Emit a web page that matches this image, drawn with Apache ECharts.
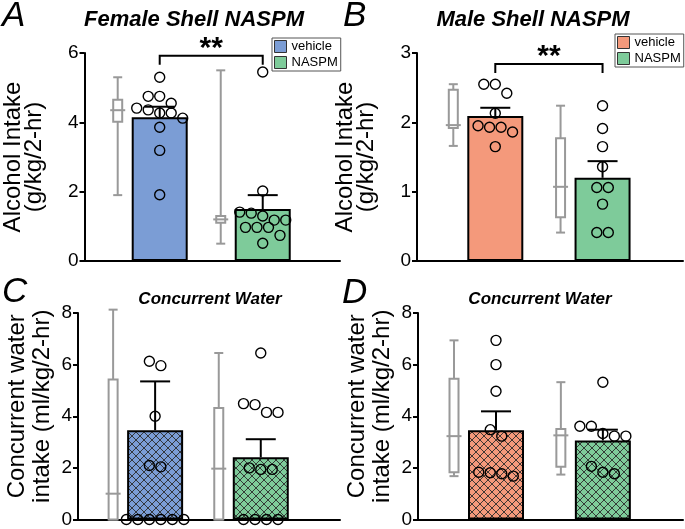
<!DOCTYPE html>
<html>
<head>
<meta charset="utf-8">
<script src="https://cdn.jsdelivr.net/npm/echarts@6/dist/echarts.min.js"></script>
<style>
  html, body { margin: 0; background: #fff; }
  #chart { width: 685px; height: 529px; }
</style>
</head>
<body>
<div id="chart"></div>
<script>
// 4 패널: A/B 알코올 섭취, C/D 동시 물 섭취 (vehicle vs NASPM)
const groups = ["vehicle", "NASPM"];

// A — Female Shell NASPM (g/kg/2-hr)
const femaleAlcMean = [4.15, 1.5];
const femaleAlcSem = [0.3, 0.4];
const femaleAlcVeh = [5.3, 4.75, 4.75, 4.55, 4.41, 4.36, 4.27, 4.27, 4.12, 3.86, 3.19, 1.91];
const femaleAlcNas = [5.45, 2.02, 1.41, 1.38, 1.3, 1.18, 1.18, 0.97, 0.97, 0.97, 0.74, 0.51];
const femaleAlcBox = [[1.9, 4.02, 4.35, 4.65, 5.3], [0.5, 1.1, 1.2, 1.3, 5.5]]; // min q1 med q3 max

// B — Male Shell NASPM
const maleAlcMean = [2.09, 1.2];
const maleAlcSem = [0.12, 0.24];
const maleAlcVeh = [2.55, 2.55, 2.42, 2.13, 1.95, 1.93, 1.93, 1.86, 1.65];
const maleAlcNas = [2.24, 1.91, 1.65, 1.36, 1.06, 1.06, 0.82, 0.41, 0.41];
const maleAlcBox = [[1.66, 1.92, 1.96, 2.47, 2.55], [0.41, 0.63, 1.07, 1.77, 2.24]];

// C — Female concurrent water (ml/kg/2-hr)
const femaleWatMean = [3.46, 2.41];
const femaleWatSem = [1.89, 0.7];
const femaleWatVeh = [6.13, 5.96, 4.0, 2.09, 2.04, 0, 0, 0, 0, 0, 0];
const femaleWatNas = [6.45, 4.49, 4.45, 4.15, 4.15, 2.0, 1.94, 1.94, 0, 0, 0, 0];
const femaleWatBox = [[0, 0, 1.0, 5.42, 8.13], [0, 0, 1.97, 4.32, 6.45]];

// D — Male concurrent water
const maleWatMean = [3.46, 3.06];
const maleWatSem = [0.73, 0.42];
const maleWatVeh = [6.94, 6.0, 4.97, 3.48, 3.23, 1.83, 1.81, 1.77, 1.68];
const maleWatNas = [5.32, 3.61, 3.61, 3.33, 3.23, 3.23, 2.06, 1.83, 1.77];
const maleWatBox = [[1.68, 1.83, 3.23, 5.45, 6.94], [1.74, 2.04, 3.26, 3.51, 5.32]];

const yMax = [6, 3, 8, 8];
const yStep = [2, 1, 2, 2];
const sigLevel = [5.92, 2.84];
const sigText = ["**", "**"];
const titles = ["Female Shell NASPM", "Male Shell NASPM", "Concurrent Water", "Concurrent Water"];
const letters = ["A", "B", "C", "D"];

const FONT = '"Liberation Sans", Arial, sans-serif';
const COL = { blue: "#7b9dd5", salmon: "#f4997b", green: "#7ecb9a", box: "#999999", ink: "#000" };
const BOX_SHIFT = -42;

function hatch(color) {
  const c = document.createElement("canvas");
  c.width = c.height = 8;
  const g = c.getContext("2d");
  g.fillStyle = color;
  g.fillRect(0, 0, 8, 8);
  g.strokeStyle = "#2b2b2b";
  g.lineWidth = 0.9;
  g.beginPath();
  g.moveTo(-1, -1); g.lineTo(9, 9);
  g.moveTo(9, -1); g.lineTo(-1, 9);
  g.stroke();
  return { image: c, repeat: "repeat" };
}

const ln = (x1, y1, x2, y2, stroke, w) => ({
  type: "line", shape: { x1, y1, x2, y2 }, style: { stroke, lineWidth: w }
});

function renderBox(params, api) {
  const x = api.value(0);
  const cx = api.coord([x, 0])[0] + BOX_SHIFT;
  const y = [1, 2, 3, 4, 5].map((d) => api.coord([x, api.value(d)])[1]);
  const hw = 4.5, mw = 7.5;
  return {
    type: "group",
    children: [
      ln(cx, y[0], cx, y[1], COL.box, 2),
      ln(cx, y[3], cx, y[4], COL.box, 2),
      ln(cx - hw, y[0], cx + hw, y[0], COL.box, 2),
      ln(cx - hw, y[4], cx + hw, y[4], COL.box, 2),
      { type: "rect", shape: { x: cx - hw, y: y[3], width: hw * 2, height: y[1] - y[3] },
        style: { fill: "#fff", stroke: COL.box, lineWidth: 2 } },
      ln(cx - mw, y[2], cx + mw, y[2], COL.box, 2),
    ],
  };
}

function renderErr(params, api) {
  const x = api.value(0);
  const p0 = api.coord([x, api.value(1)]);
  const p1 = api.coord([x, api.value(1) + api.value(2)]);
  return {
    type: "group",
    children: [
      ln(p0[0], p0[1], p1[0], p1[1], COL.ink, 2),
      ln(p1[0] - 15, p1[1], p1[0] + 15, p1[1], COL.ink, 2),
    ],
  };
}

// 같은 높이대 점들을 한 줄로 묶어 좌우로 펼친다
function swarmRenderer(vals) {
  const D = 10.5, STEP = 11.5;
  return function (params, api) {
    const x = api.value(0);
    const py = vals.map((v) => api.coord([x, v])[1]);
    const order = vals.map((v, i) => i).sort((a, b) => vals[b] - vals[a]);
    const off = new Array(vals.length).fill(0);
    let row = [], rowY = null;
    const flush = () => row.forEach((k, j) => (off[k] = (j - (row.length - 1) / 2) * STEP));
    order.forEach((k) => {
      if (rowY === null || py[k] - rowY >= D) { flush(); row = []; rowY = py[k]; }
      row.push(k);
    });
    flush();
    const i = params.dataIndex;
    const cx = api.coord([x, 0])[0] + off[i];
    return {
      type: "circle",
      shape: { cx, cy: py[i], r: 5 },
      style: { fill: "none", stroke: COL.ink, lineWidth: 1.4 },
    };
  };
}

function sigRenderer(text) {
  return function (params, api) {
    const l = api.coord([api.value(0), api.value(2)]);
    const r = api.coord([api.value(1), api.value(2)]);
    return {
      type: "group",
      children: [
        { type: "polyline",
          shape: { points: [[l[0], l[1] + 9], l, r, [r[0], r[1] + 9]] },
          style: { stroke: COL.ink, lineWidth: 2, fill: "none" } },
        { type: "text", x: (l[0] + r[0]) / 2, y: l[1] - 7,
          style: { text, font: "bold 30px " + FONT, fill: COL.ink, align: "center", verticalAlign: "middle" } },
      ],
    };
  };
}

const panels = [
  { mean: femaleAlcMean, sem: femaleAlcSem, pts: [femaleAlcVeh, femaleAlcNas], box: femaleAlcBox, colors: [COL.blue, COL.green], hatched: false },
  { mean: maleAlcMean, sem: maleAlcSem, pts: [maleAlcVeh, maleAlcNas], box: maleAlcBox, colors: [COL.salmon, COL.green], hatched: false },
  { mean: femaleWatMean, sem: femaleWatSem, pts: [femaleWatVeh, femaleWatNas], box: femaleWatBox, colors: [COL.blue, COL.green], hatched: true },
  { mean: maleWatMean, sem: maleWatSem, pts: [maleWatVeh, maleWatNas], box: maleWatBox, colors: [COL.salmon, COL.green], hatched: true },
];

const gridPos = [
  { left: 78, top: 53, width: 262, height: 208 },
  { left: 417, top: 53, width: 266, height: 208 },
  { left: 78, top: 313, width: 262, height: 207 },
  { left: 418, top: 313, width: 265, height: 207 },
];

const yNames = ["Alcohol Intake\n(g/kg/2-hr)", "Alcohol Intake\n(g/kg/2-hr)",
  "Concurrent water\nintake (ml/kg/2-hr)", "Concurrent water\nintake (ml/kg/2-hr)"];

const series = [];
panels.forEach((p, i) => {
  const ax = { xAxisIndex: i, yAxisIndex: i, silent: true };
  groups.forEach((g, k) => {
    series.push({
      ...ax, type: "bar", name: g, barWidth: 56, barGap: "-100%", z: 2,
      data: [[k + 1, p.mean[k]]],
      itemStyle: { color: p.hatched ? hatch(p.colors[k]) : p.colors[k], borderColor: COL.ink, borderWidth: 2 },
    });
  });
  series.push({ ...ax, type: "custom", z: 1, data: p.box.map((b, k) => [k + 1, ...b]), renderItem: renderBox });
  series.push({ ...ax, type: "custom", z: 3, data: p.mean.map((m, k) => [k + 1, m, p.sem[k]]), renderItem: renderErr });
  p.pts.forEach((vals, k) => {
    series.push({ ...ax, type: "custom", z: 4, data: vals.map((v) => [k + 1, v]), renderItem: swarmRenderer(vals) });
  });
  if (i < 2) {
    series.push({ ...ax, type: "custom", z: 4, data: [[1, 2, sigLevel[i]]], renderItem: sigRenderer(sigText[i]) });
  }
});

const legendBase = {
  orient: "vertical", icon: "rect", itemWidth: 12, itemHeight: 12, itemGap: 3,
  borderColor: "#555", borderWidth: 1, padding: [2, 3, 2, 2], selectedMode: false,
  textStyle: { fontFamily: FONT, fontSize: 13, color: COL.ink },
};
const legendItems = (c0) => [
  { name: "vehicle", itemStyle: { color: c0, borderColor: "#333", borderWidth: 1 } },
  { name: "NASPM", itemStyle: { color: COL.green, borderColor: "#333", borderWidth: 1 } },
];

const graphic = [];
const letterPos = [[2, 16], [343, 16], [2, 292], [342, 293]];
const titlePos = [[194, 20, 22], [533, 20, 22], [210, 299, 17], [540, 299, 17]];
letters.forEach((t, i) => graphic.push({
  type: "text", x: letterPos[i][0], y: letterPos[i][1],
  style: { text: t, font: "italic 35px " + FONT, fill: COL.ink, verticalAlign: "middle" },
}));
titles.forEach((t, i) => graphic.push({
  type: "text", x: titlePos[i][0], y: titlePos[i][1],
  style: { text: t, font: "italic bold " + titlePos[i][2] + "px " + FONT, fill: COL.ink, align: "center", verticalAlign: "middle" },
}));

const chart = echarts.init(document.getElementById("chart"), null, { renderer: "canvas" });
chart.setOption({
  animation: false,
  textStyle: { fontFamily: FONT },
  grid: gridPos,
  xAxis: gridPos.map((g, i) => ({
    gridIndex: i, type: "value", min: 0.27, max: 2.75,
    axisLine: { lineStyle: { color: COL.ink, width: 2 } },
    axisTick: { show: false }, axisLabel: { show: false }, splitLine: { show: false },
  })),
  yAxis: gridPos.map((g, i) => ({
    gridIndex: i, type: "value", min: 0, max: yMax[i], interval: yStep[i],
    name: yNames[i], nameLocation: "middle", nameRotate: 90, nameGap: i < 2 ? 40 : 23,
    nameTextStyle: { fontSize: 24, lineHeight: i < 2 ? 21 : 25, color: COL.ink, padding: i < 2 ? 0 : [0, 0, 0, 20] },
    axisLine: { show: true, lineStyle: { color: COL.ink, width: 2 } },
    axisTick: { show: true, length: 5, lineStyle: { color: COL.ink, width: 2 } },
    axisLabel: { fontSize: 19, color: COL.ink, margin: 6 },
    splitLine: { show: false },
  })),
  legend: [
    { ...legendBase, left: 272, top: 38, data: legendItems(COL.blue) },
    { ...legendBase, left: 615, top: 34, data: legendItems(COL.salmon) },
  ],
  graphic,
  series,
});
</script>
</body>
</html>
